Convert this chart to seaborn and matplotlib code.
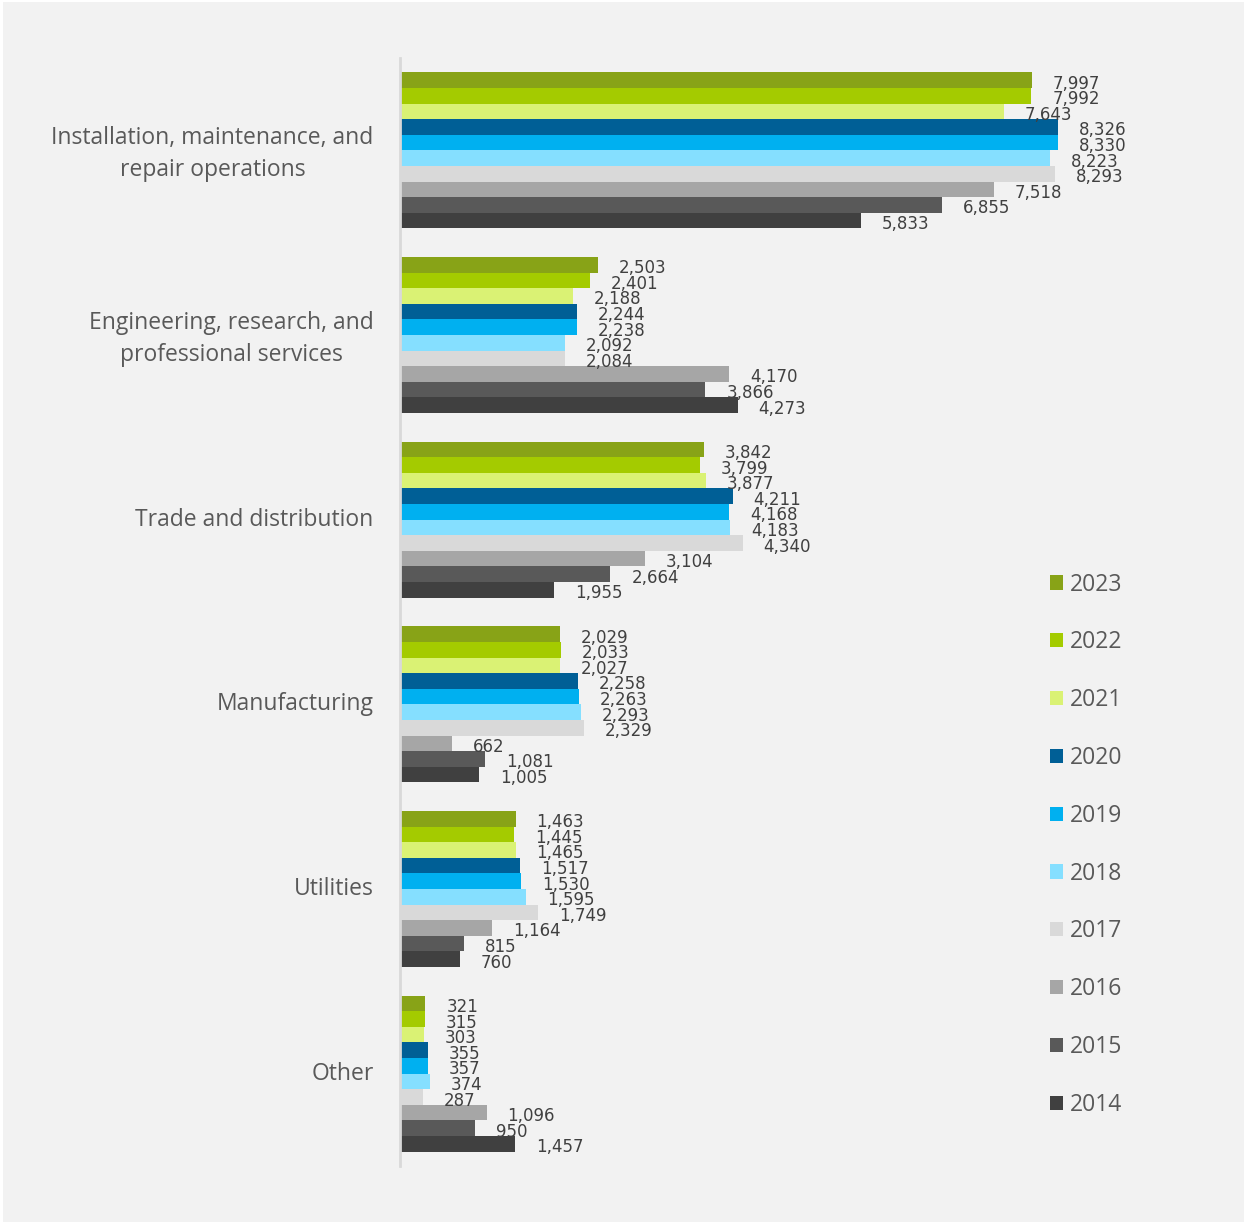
import matplotlib
matplotlib.use("Agg")
import matplotlib.pyplot as plt
import matplotlib.transforms as mtransforms
from matplotlib.patches import Rectangle, Patch
import seaborn as sns
import pandas as pd

categories = [
    "Installation, maintenance, and\nrepair operations",
    "Engineering, research, and\nprofessional services",
    "Trade and distribution",
    "Manufacturing",
    "Utilities",
    "Other",
]
years = ["2023", "2022", "2021", "2020", "2019", "2018", "2017", "2016", "2015", "2014"]

# values per year, in category order
v2023 = [7997, 2503, 3842, 2029, 1463, 321]
v2022 = [7992, 2401, 3799, 2033, 1445, 315]
v2021 = [7643, 2188, 3877, 2027, 1465, 303]
v2020 = [8326, 2244, 4211, 2258, 1517, 355]
v2019 = [8330, 2238, 4168, 2263, 1530, 357]
v2018 = [8223, 2092, 4183, 2293, 1595, 374]
v2017 = [8293, 2084, 4340, 2329, 1749, 287]
v2016 = [7518, 4170, 3104, 662, 1164, 1096]
v2015 = [6855, 3866, 2664, 1081, 815, 950]
v2014 = [5833, 4273, 1955, 1005, 760, 1457]

colors = ["#88A317", "#A4CB00", "#DAF274", "#005F96", "#00B0F0",
          "#85DFFF", "#D9D9D9", "#A6A6A6", "#595959", "#404040"]

series = [v2023, v2022, v2021, v2020, v2019, v2018, v2017, v2016, v2015, v2014]
rows = []
for yr, vals in zip(years, series):
    for cat, v in zip(categories, vals):
        rows.append({"category": cat, "year": yr, "value": v})
df = pd.DataFrame(rows)

sns.set_theme(style="white")
plt.rcParams["font.family"] = ["Open Sans", "DejaVu Sans"]

W, H = 1244, 1222
fig = plt.figure(figsize=(W / 100, H / 100), dpi=100, facecolor="white")
fig.patches.append(Rectangle((3 / W, 0), 1 - 3 / W, 1 - 2 / H,
                             transform=fig.transFigure, facecolor="#F2F2F2",
                             edgecolor="none", zorder=-10))

ax = fig.add_axes([400 / W, 1 - 1166 / H, 790 / W, 1108 / H])
ax.set_facecolor("none")

sns.barplot(data=df, y="category", x="value", hue="year",
            order=categories, hue_order=years, palette=colors,
            width=0.845, orient="h", ax=ax, legend=False,
            edgecolor="none", linewidth=0, saturation=1)

ax.set_xlim(0, 10000)
ax.set_ylim(5.5, -0.5)
ax.set_xlabel("")
ax.set_ylabel("")
ax.set_xticks([])
for s in ["top", "right", "bottom"]:
    ax.spines[s].set_visible(False)
ax.spines["left"].set_color("#D9D9D9")
ax.spines["left"].set_linewidth(2)

ax.tick_params(axis="y", length=0, pad=19, labelsize=16.5, labelcolor="#595959")
lift = mtransforms.ScaledTranslation(0, 3 / 100, fig.dpi_scale_trans)
for lbl in ax.get_yticklabels():
    lbl.set_multialignment("center")
    lbl.set_linespacing(1.45)
    lbl.set_transform(lbl.get_transform() + lift)

# value labels next to each bar
for cont in ax.containers:
    for bar in cont:
        w = bar.get_width()
        y = bar.get_y() + bar.get_height() / 2
        ax.annotate(f"{w:,.0f}", xy=(w, y), xytext=(15, -2.5),
                    textcoords="offset points", ha="left", va="center",
                    fontsize=12, color="#404040",
                    family=["Liberation Sans Narrow", "DejaVu Sans"],
                    annotation_clip=False)

handles = [Patch(facecolor=c, edgecolor="none") for c in colors]
fig.legend(handles, years, loc="upper left",
           bbox_to_anchor=(1029 / W, 1 - 552 / H),
           frameon=False, fontsize=16.5, labelcolor="#595959",
           handlelength=0.57, handleheight=0.57, handletextpad=0.3,
           labelspacing=1.475)

fig.savefig("out.png", dpi=100, facecolor="white")
